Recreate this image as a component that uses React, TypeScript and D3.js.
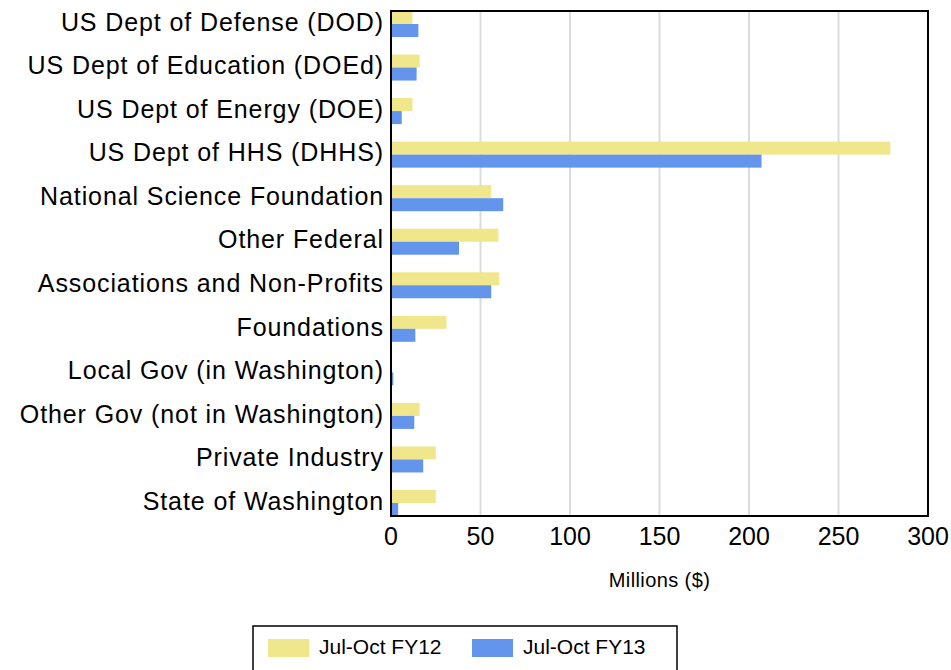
import React, { useEffect, useRef } from "react";
import * as d3 from "d3";

const categories = [
  "US Dept of Defense (DOD)",
  "US Dept of Education (DOEd)",
  "US Dept of Energy (DOE)",
  "US Dept of HHS (DHHS)",
  "National Science Foundation",
  "Other Federal",
  "Associations and Non-Profits",
  "Foundations",
  "Local Gov (in Washington)",
  "Other Gov (not in Washington)",
  "Private Industry",
  "State of Washington",
];
const seriesNames = ["Jul-Oct FY12", "Jul-Oct FY13"];
const fy12 = [12, 16, 12, 279, 56, 60, 60.5, 31, 0, 16, 25, 25];
const fy13 = [15.3, 14.3, 6, 207, 62.7, 38, 56, 13.6, 1.3, 13, 18, 4];
const xTicks = [0, 50, 100, 150, 200, 250, 300];
const colors = ["#f0e68c", "#6495ed"];

export default function App() {
  const ref = useRef<SVGSVGElement>(null);

  useEffect(() => {
    const svg = d3.select(ref.current);
    svg.selectAll("*").remove();

    const width = 951;
    const height = 670;
    const plot = { left: 391, right: 928, top: 11, bottom: 516 };
    const font = "'Liberation Sans', Arial, sans-serif";

    svg.attr("width", width).attr("height", height);

    const x = d3.scaleLinear().domain([0, 300]).range([plot.left, plot.right]);
    const y = d3.scalePoint<string>().domain(categories).range([24, 503]);
    const sub = d3.scaleBand<string>().domain(seriesNames).range([-13, 13]);

    // gridlines
    svg.append("g")
      .selectAll("line")
      .data(xTicks.slice(1, -1))
      .join("line")
      .attr("x1", d => x(d))
      .attr("x2", d => x(d))
      .attr("y1", plot.top)
      .attr("y2", plot.bottom)
      .attr("stroke", "#dcdcdc")
      .attr("stroke-width", 2);

    const rows = categories.map((c, i) => ({ c, vals: [fy12[i], fy13[i]] }));

    const g = svg.append("g")
      .selectAll("g")
      .data(rows)
      .join("g")
      .attr("transform", d => `translate(0,${y(d.c)})`);

    g.selectAll("rect")
      .data(d => d.vals.map((v, k) => ({ v, k })))
      .join("rect")
      .attr("x", x(0))
      .attr("y", d => sub(seriesNames[d.k])!)
      .attr("width", d => x(d.v) - x(0))
      .attr("height", sub.bandwidth())
      .attr("fill", d => colors[d.k]);

    // category labels
    g.append("text")
      .attr("x", plot.left - 7)
      .attr("y", 0)
      .attr("dy", "0.27em")
      .attr("text-anchor", "end")
      .attr("font-family", font)
      .attr("font-size", 25)
      .attr("letter-spacing", 0.9)
      .attr("fill", "#000")
      .text(d => d.c);

    // plot border
    svg.append("rect")
      .attr("x", plot.left)
      .attr("y", plot.top)
      .attr("width", plot.right - plot.left)
      .attr("height", plot.bottom - plot.top)
      .attr("fill", "none")
      .attr("stroke", "#000")
      .attr("stroke-width", 2);

    // x tick labels
    svg.append("g")
      .selectAll("text")
      .data(xTicks)
      .join("text")
      .attr("x", d => x(d))
      .attr("y", 545)
      .attr("text-anchor", "middle")
      .attr("font-family", font)
      .attr("font-size", 25)
      .attr("fill", "#000")
      .text(d => d);

    svg.append("text")
      .attr("x", (plot.left + plot.right) / 2)
      .attr("y", 587)
      .attr("text-anchor", "middle")
      .attr("font-family", font)
      .attr("font-size", 20)
      .attr("letter-spacing", 0.4)
      .attr("fill", "#000")
      .text("Millions ($)");

    // legend
    svg.append("rect")
      .attr("x", 253)
      .attr("y", 626)
      .attr("width", 424)
      .attr("height", 60)
      .attr("fill", "#fff")
      .attr("stroke", "#000")
      .attr("stroke-width", 1.5);

    const leg = svg.append("g")
      .selectAll("g")
      .data(seriesNames)
      .join("g")
      .attr("transform", (d, i) => `translate(${268 + i * 204},639)`);

    leg.append("rect")
      .attr("width", 41)
      .attr("height", 18)
      .attr("fill", (d, i) => colors[i]);

    leg.append("text")
      .attr("x", 51)
      .attr("y", 15)
      .attr("font-family", font)
      .attr("font-size", 21)
      .attr("fill", "#000")
      .text(d => d);
  }, []);

  return (
    <svg ref={ref} style={{ position: "absolute", left: 0, top: 0, display: "block" }} />
  );
}
